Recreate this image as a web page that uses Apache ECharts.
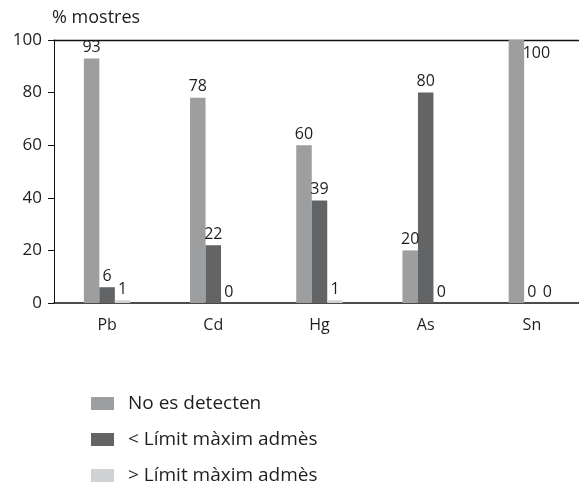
<!DOCTYPE html>
<html>
<head>
<meta charset="utf-8">
<script src="https://cdn.jsdelivr.net/npm/echarts@6/dist/echarts.min.js"></script>
<style>
html,body{margin:0;padding:0;background:#fff;overflow:hidden;width:579px;height:486px;}
#chart{width:600px;height:486px;}
</style>
</head>
<body>
<div id="chart"></div>
<script>
const categories = ['Pb', 'Cd', 'Hg', 'As', 'Sn'];
const seriesNames = ['No es detecten', '< Límit màxim admès', '> Límit màxim admès'];
const noDetect = [93, 78, 60, 20, 100];
const belowLimit = [6, 22, 39, 80, 0];
const aboveLimit = [1, 0, 1, 0, 0];
const yMin = 0, yMax = 100, yInterval = 20;
const yAxisName = '% mostres';

const colors = ['#9d9ea0', '#636466', '#d0d1d3'];
const FONT = '"Open Sans", "Noto Sans", sans-serif';

function withLabels(arr) {
  return arr.map(v => v >= yMax
    ? { value: v, label: { position: [14, 5], align: 'left', verticalAlign: 'top' } }
    : v);
}

const chart = echarts.init(document.getElementById('chart'), null, { renderer: 'canvas' });
const labelStyle = { show: true, position: 'top', distance: 3, fontSize: 16, color: '#1e1e1e', fontFamily: FONT };

chart.setOption({
  animation: false,
  textStyle: { fontFamily: FONT },
  grid: { left: 54, width: 531, top: 40, height: 263, containLabel: false },
  legend: {
    orient: 'vertical', left: 91, top: 394,
    itemWidth: 23, itemHeight: 13, itemGap: 17,
    icon: 'rect', padding: 0,
    textStyle: { fontSize: 19, color: '#1e1e1e', fontFamily: FONT, padding: [0, 0, 0, 9] },
    data: seriesNames
  },
  xAxis: [{
    type: 'category', data: categories, position: 'bottom',
    axisLine: { show: true, lineStyle: { color: '#111', width: 1.5 } },
    axisTick: { show: false },
    axisLabel: { fontSize: 16, color: '#1e1e1e', margin: 14, fontFamily: FONT }
  }, {
    type: 'category', data: categories, position: 'top',
    axisLine: { show: true, lineStyle: { color: '#111', width: 1.3 } },
    axisTick: { show: false }, axisLabel: { show: false }
  }],
  yAxis: {
    type: 'value', min: yMin, max: yMax, interval: yInterval,
    name: yAxisName, nameLocation: 'end', nameGap: 13,
    nameTextStyle: { fontSize: 18, color: '#1e1e1e', align: 'left', fontFamily: FONT, padding: [0, 0, 0, -2] },
    axisLine: { show: true, lineStyle: { color: '#111', width: 1 } },
    axisTick: { show: true, inside: false, length: 6, lineStyle: { color: '#111' } },
    axisLabel: { fontSize: 17, color: '#1e1e1e', margin: 12, fontFamily: FONT },
    splitLine: { show: false }
  },
  series: [
    { name: seriesNames[0], type: 'bar', data: withLabels(noDetect), barWidth: 15.5, barGap: '0%', itemStyle: { color: colors[0] }, label: labelStyle },
    { name: seriesNames[1], type: 'bar', data: withLabels(belowLimit), barWidth: 15.5, barGap: '0%', itemStyle: { color: colors[1] }, label: labelStyle },
    { name: seriesNames[2], type: 'bar', data: withLabels(aboveLimit), barWidth: 15.5, barGap: '0%', itemStyle: { color: colors[2] }, label: labelStyle }
  ]
});
</script>
</body>
</html>
